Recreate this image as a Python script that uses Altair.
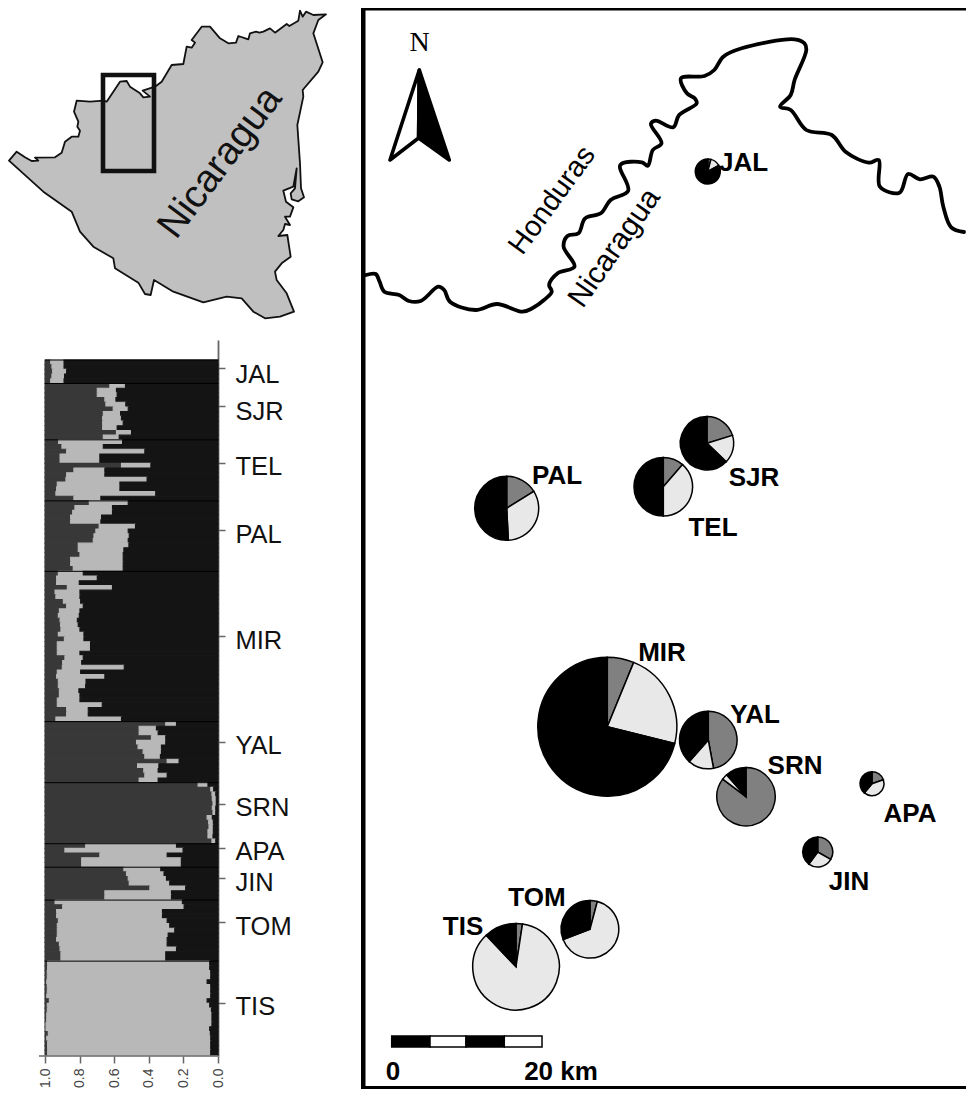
import altair as alt
import pandas as pd

# ---------- STRUCTURE plot: per population, share boundaries (q-axis 1.0 -> 0.0)
POPS = ["JAL", "SJR", "TEL", "PAL", "MIR", "YAL", "SRN", "APA", "JIN", "TOM", "TIS"]
BOUND_A = {
    "JAL": [.967, .960, .956, .960, .967],
    "SJR": [.625, .698, .698, .654, .648, .606, .663, .667, .667, .667, .587, .663],
    "TEL": [.921, .902, .875, .913, .913, .558, .833, .875, .879, .929, .933, .937, .833],
    "PAL": [.744, .827, .840, .852, .852, .687, .706, .717, .721, .808, .808, .798, .852, .852, .837],
    "MIR": [.923, .933, .933, .871, .942, .937, .894, .875, .917, .923, .913, .910, .908, .923, .888, .929,
            .929, .929, .885, .898, .900, .929, .933, .923, .923, .917, .917, .929, .929, .875, .875, .937],
    "YAL": [.302, .456, .456, .385, .471, .462, .433, .423, .294, .465, .429, .423, .456],
    "SRN": [.115, .042, .035, .033, .029, .033, .029, .063, .054, .052, .058, .058, .035],
    "APA": [.765, .885, .683, .788, .788],
    "JIN": [.544, .529, .519, .513, .394, .654, .654],
    "TOM": [.942, .898, .933, .933, .923, .929, .929, .929, .933, .917, .913, .908, .908],
    "TIS": [.985, .985, .987, .987, .990, .987, .987, .990, .975, .987, .987, .990, .990, .994, .994, .981,
            .990, .985, .985, .985],
}
BOUND_B = {
    "JAL": [.890, .890, .875, .887, .890],
    "SJR": [.535, .587, .583, .590, .533, .519, .563, .558, .548, .583, .500, .571],
    "TEL": [.552, .663, .423, .683, .683, .388, .654, .654, .410, .567, .567, .360, .677],
    "PAL": [.519, .610, .610, .673, .677, .477, .519, .513, .519, .515, .544, .548, .548, .548, .548],
    "MIR": [.779, .698, .802, .610, .798, .798, .794, .779, .798, .802, .813, .808, .798, .775, .775, .737,
            .737, .798, .779, .788, .542, .794, .654, .763, .765, .804, .798, .798, .669, .750, .750, .558],
    "YAL": [.240, .356, .346, .302, .302, .327, .327, .333, .225, .342, .346, .294, .346],
    "SRN": [.058, .025, .013, .010, .010, .013, .013, .033, .027, .027, .027, .029, .013],
    "APA": [.240, .202, .294, .212, .212],
    "JIN": [.331, .312, .298, .279, .187, .269, .269],
    "TOM": [.206, .196, .321, .321, .294, .279, .250, .288, .294, .294, .240, .302, .302],
    "TIS": [.048, .048, .042, .042, .063, .042, .042, .042, .063, .048, .038, .035, .035, .035, .048, .044,
            .042, .042, .042, .042],
}
POP_TICKS = [1.7, 9.8, 21.9, 36.2, 58.8, 81.3, 94.5, 103.9, 110.3, 119.7, 136.9]
Q_TICKS = [1.0, 0.8, 0.6, 0.4, 0.2, 0.0]
CLUSTER_COLOURS = {"dark": "#383838", "light": "#b8b8b8", "black": "#141414"}

# ---------- pie charts on the main map
PIE_POP = ["JAL", "SJR", "TEL", "PAL", "MIR", "YAL", "SRN", "APA", "JIN", "TOM", "TIS"]
PIE_X = [707.8, 707, 663.3, 506.7, 607.3, 708.3, 746, 872, 817.7, 590, 516]
PIE_Y = [171.5, 443.3, 486.7, 508.3, 726.7, 740, 796.7, 783.7, 852, 929.3, 966.7]
PIE_R = [12.5, 26.7, 29.3, 32, 69.5, 28.8, 29.2, 12, 15, 28.8, 43.3]
PIE_GREY = [.04, .202, .114, .161, .062, .471, .853, .197, .333, .041, .024]
PIE_LIGHT = [.13, .170, .386, .331, .227, .144, .032, .414, .268, .651, .855]
PIE_BLACK = [.83, .628, .500, .508, .711, .385, .115, .389, .399, .308, .121]
PIE_COLOURS = ["#808080", "#e8e8e8", "#000000"]
PIE_LABEL_X = [743.5, 754, 713, 557, 662, 755, 795, 910, 849, 537, 463]
PIE_LABEL_Y = [163, 478, 528, 476, 653, 715, 766, 814, 882, 898, 927]

# ---------- main map lines
BORDER_X = [365.9, 375.7, 379.6, 384.3, 399.2, 408.9, 420.7, 438.3, 444.2, 450, 475.5, 497, 522.5, 532.3, 544,
            551.8, 549.1, 557.7, 574.5, 563.6, 567.5, 578.5, 585.1, 600.8, 610.6, 628.2, 620.3, 641.9, 647.8,
            652.8, 661.5, 650.9, 655.6, 673.2, 679.1, 696.7, 694.7, 686.9, 681, 704.5, 714.3, 723.3, 741.7,
            794.6, 804.4, 806.3, 794.6, 790.7, 780.1, 790.7, 806.3, 831.8, 845.5, 869, 878.7, 879.9, 899.5,
            908.1, 919.8, 933.5, 939.4, 943.3, 951.2, 964]
BORDER_Y = [275, 274, 281.7, 291.7, 295, 301, 301, 286.7, 290, 301.7, 310, 304, 311.7, 308.3, 300,
            291.7, 285, 273.3, 266.7, 246.7, 236, 233.3, 218.3, 213.3, 200, 190.7, 165, 162.3, 165.7,
            150, 143.3, 124, 120.7, 127.3, 115, 103.3, 98.3, 93.3, 78.3, 76, 70, 56.7, 48.3,
            39.3, 43.3, 50, 80, 95, 106.7, 110, 130, 135, 151.7, 162.7, 160, 186.7, 192.7,
            174, 179.3, 176.7, 186.7, 206.7, 227.3, 232]
ARROW_LEFT = [[419.3, 70], [390, 160], [418.6, 138], [419.3, 70]]
ARROW_RIGHT = [[419.3, 70], [449.3, 160], [418.6, 138], [419.3, 70]]
SCALE_BAR_X = [391.7, 430, 466, 504.3, 542]
SCALE_BAR_FILL = ["#000000", "#ffffff", "#000000", "#ffffff"]

# ---------- inset map outline (read at 3 units per pixel)
OUTLINE = [[27, 482], [50, 455], [75, 472], [95, 483], [115, 482], [105, 473], [165, 472], [185, 458], [195, 425],
           [215, 410], [235, 410], [240, 392], [232, 380], [235, 365], [222, 335], [230, 302], [270, 305], [310, 302],
           [320, 305], [360, 245], [380, 243], [390, 260], [420, 280], [430, 292], [450, 290], [428, 272], [465, 260],
           [485, 245], [515, 195], [550, 192], [560, 140], [575, 143], [585, 128], [575, 120], [605, 80], [630, 80],
           [660, 115], [685, 130], [708, 128], [715, 108], [745, 118], [750, 100], [768, 95], [778, 98], [790, 95],
           [810, 85], [825, 98], [860, 72], [868, 78], [895, 62], [900, 32], [908, 50], [918, 35], [940, 45],
           [978, 43], [955, 60], [940, 100], [968, 187], [955, 215], [908, 270], [910, 290], [892, 375], [900, 490],
           [903, 565], [912, 592], [895, 604], [875, 598], [872, 580], [885, 565], [890, 505], [880, 560], [850, 572],
           [858, 605], [880, 622], [870, 650], [855, 650], [870, 675], [855, 672], [850, 690], [835, 708], [862, 705],
           [872, 770], [845, 790], [825, 815], [830, 840], [860, 880], [882, 935], [840, 950], [795, 955], [760, 935],
           [725, 895], [680, 890], [610, 907], [520, 875], [462, 840], [452, 885], [435, 882], [415, 848], [345, 805],
           [340, 775], [280, 740], [240, 695], [215, 635], [130, 575], [27, 482]]
INSET_BOX = [309, 462, 225, 513]

SANS = "Liberation Sans"
GEO = dict(type="identity", scale=1, translate=[-8, -8])
MAIN_SHIFT = 347  # main panel starts this far right of the inset panel

# ---------- build STRUCTURE tables
rows, seps = [], [0]
i = 0
for p in POPS:
    for a, b in zip(BOUND_A[p], BOUND_B[p]):
        rows += [
            dict(y0=i, y1=i + 1, q0=1.0, q1=a, k="dark"),
            dict(y0=i, y1=i + 1, q0=a, q1=b, k="light"),
            dict(y0=i, y1=i + 1, q0=b, q1=0.0, k="black"),
        ]
        i += 1
    seps.append(i)
seps = seps[:-1]
bars = pd.DataFrame(rows)

QX = alt.Scale(domain=[1.2139, 0], nice=False, zero=False)
QY = alt.Scale(domain=[148.2, -4.26], nice=False, zero=False)
label_expr = "".join(f"datum.value=={v}?'{n}':" for v, n in zip(POP_TICKS, POPS)) + "''"
cluster_scale = alt.Scale(domain=list(CLUSTER_COLOURS), range=list(CLUSTER_COLOURS.values()))

struct_bars = alt.Chart(bars).mark_rect(strokeWidth=1.1).encode(
    x=alt.X("q0:Q", scale=QX, title=None, axis=alt.Axis(
        values=Q_TICKS, format=".1f", grid=False, domain=False, tickSize=7, tickWidth=1.5, tickColor="#666666",
        labelAngle=270, labelFont=SANS, labelFontSize=14, labelColor="#444444", labelPadding=5)),
    x2="q1:Q",
    y=alt.Y("y0:Q", scale=QY, title=None, axis=alt.Axis(
        orient="right", values=POP_TICKS, labelExpr=label_expr, grid=False, domain=True, domainColor="#666666",
        domainWidth=1.8, tickSize=7, tickWidth=1.5, tickColor="#666666", labelFont=SANS, labelFontSize=25.5,
        labelColor="#111111", labelPadding=10,
        labelOffset={"condition": [{"test": "datum.value<5", "value": 7}, {"test": "datum.value<15", "value": 5}], "value": 4},
        labelOverlap=False, labelFlush=False)),
    y2="y1:Q",
    color=alt.Color("k:N", scale=cluster_scale, legend=None),
    stroke=alt.Stroke("k:N", scale=cluster_scale, legend=None),
)
struct_seps = alt.Chart(pd.DataFrame({"y": seps, "a": 1.0, "b": 0.0})).mark_rule(color="#000000", strokeWidth=1).encode(
    x=alt.X("a:Q", scale=QX), x2="b:Q", y=alt.Y("y:Q", scale=QY))
struct_axis = alt.Chart(pd.DataFrame({"a": [1.035], "b": [0.0], "y": [148.2]})).mark_rule(color="#666666", strokeWidth=1.6).encode(
    x=alt.X("a:Q", scale=QX), x2="b:Q", y=alt.Y("y:Q", scale=QY))
struct = alt.layer(struct_bars, struct_seps, struct_axis).properties(width=210, height=716)

# ---------- inset
IX = alt.Scale(domain=[24, 1065], nice=False, zero=False)
IY = alt.Scale(domain=[1020, 24], nice=False, zero=False)
outline_px = [[x / 3, y / 3] for x, y in OUTLINE]
outline_geo = [{"type": "Feature", "properties": {}, "geometry": {"type": "Polygon", "coordinates": [outline_px]}}]
inset_land = alt.Chart(alt.Data(values=outline_geo)).mark_geoshape(
    fill="#c0c0c0", stroke="#111111", strokeWidth=1.8, strokeJoin="round"
).project(**GEO)
inset_box = alt.Chart(pd.DataFrame({"x": [INSET_BOX[0]], "x2": [INSET_BOX[1]], "y": [INSET_BOX[2]], "y2": [INSET_BOX[3]]})).mark_rect(
    fillOpacity=0, stroke="#111111", strokeWidth=4.6).encode(
    x=alt.X("x:Q", scale=IX, axis=None), x2="x2:Q", y=alt.Y("y:Q", scale=IY, axis=None), y2="y2:Q")
inset_text = alt.Chart(pd.DataFrame({"x": [660], "y": [487], "t": ["Nicaragua"]})).mark_text(
    font=SANS, fontSize=39, angle=307, align="center", baseline="middle", color="#111111").encode(
    x=alt.X("x:Q", scale=IX, axis=None), y=alt.Y("y:Q", scale=IY, axis=None), text="t:N")
inset = alt.layer(inset_land, inset_box, inset_text).properties(width=347, height=332)

# ---------- main map
MX = alt.Scale(domain=[355, 966], nice=False, zero=False)
MY = alt.Scale(domain=[1089, 8], nice=False, zero=False)
ax = dict(scale=MX, axis=None)
ay = dict(scale=MY, axis=None)


def labels(xs, ys, ts, **kw):
    df = pd.DataFrame({"x": xs, "y": ys, "t": ts})
    return alt.Chart(df).mark_text(align="center", baseline="middle", color="#000000", **kw).encode(
        x=alt.X("x:Q", **ax), y=alt.Y("y:Q", **ay), text="t:N")


FRAME = pd.DataFrame({"x": [361, 361, 361], "x2": [966, 365.5, 966], "y": [8, 8, 1086], "y2": [10.5, 1086, 1089]})
frame = alt.Chart(FRAME).mark_rect(color="#000000").encode(
    x=alt.X("x:Q", **ax), x2="x2:Q", y=alt.Y("y:Q", **ay), y2="y2:Q")
border = alt.Chart(pd.DataFrame({"x": BORDER_X, "y": BORDER_Y, "o": range(len(BORDER_X))})).mark_line(
    color="#000000", strokeWidth=3.8, strokeJoin="round", strokeCap="round", interpolate="catmull-rom").encode(
    x=alt.X("x:Q", **ax), y=alt.Y("y:Q", **ay), order="o:Q")


def arrow(poly, fill):
    shifted = [[x - MAIN_SHIFT, y] for x, y in poly]
    geo = [{"type": "Feature", "properties": {}, "geometry": {"type": "Polygon", "coordinates": [shifted]}}]
    return alt.Chart(alt.Data(values=geo)).mark_geoshape(
        fill=fill, stroke="#000000", strokeWidth=3.6, strokeJoin="round"
    ).project(**GEO)


pie_rows = []
for p, x, y, r, g, l, b in zip(PIE_POP, PIE_X, PIE_Y, PIE_R, PIE_GREY, PIE_LIGHT, PIE_BLACK):
    c = 0.0
    for share, col in zip((g, l, b), PIE_COLOURS):
        pie_rows.append(dict(pop=p, x=x, y=y, r=r, t0=c, t1=c + share, col=col))
        c += share
pies = alt.Chart(pd.DataFrame(pie_rows)).mark_arc(stroke="#000000", strokeWidth=1.5).encode(
    x=alt.X("x:Q", **ax), y=alt.Y("y:Q", **ay),
    theta=alt.Theta("t0:Q", scale=alt.Scale(domain=[0, 1], range=[0, 6.283185])),
    theta2="t1:Q",
    radius=alt.Radius("r:Q", scale=None),
    color=alt.Color("col:N", scale=None),
)
bar_df = pd.DataFrame({"x": SCALE_BAR_X[:-1], "x2": SCALE_BAR_X[1:], "y": [1036] * 4, "y2": [1047] * 4, "col": SCALE_BAR_FILL})
scale_bar = alt.Chart(bar_df).mark_rect(stroke="#000000", strokeWidth=1.5).encode(
    x=alt.X("x:Q", **ax), x2="x2:Q", y=alt.Y("y:Q", **ay), y2="y2:Q", color=alt.Color("col:N", scale=None))

main = alt.layer(
    arrow(ARROW_LEFT, "#ffffff"),
    arrow(ARROW_RIGHT, "#000000"),
    frame,
    border,
    pies,
    scale_bar,
    labels(PIE_LABEL_X, PIE_LABEL_Y, PIE_POP, font=SANS, fontSize=26, fontWeight="bold"),
    labels([393, 561], [1072, 1072], ["0", "20 km"], font=SANS, fontSize=26, fontWeight="bold"),
    labels([419.5], [43], ["N"], font="Liberation Serif", fontSize=28),
    labels([552], [200], ["Honduras"], font=SANS, fontSize=29, angle=306),
    labels([614.5], [248], ["Nicaragua"], font=SANS, fontSize=30, angle=305),
).properties(width=611, height=1081)

left = alt.vconcat(inset, struct, spacing=0)
chart = alt.hconcat(left, main, spacing=0).properties(padding=0).configure_view(stroke=None)
chart.save("out.html", embed_options={"renderer": "svg", "actions": False})
